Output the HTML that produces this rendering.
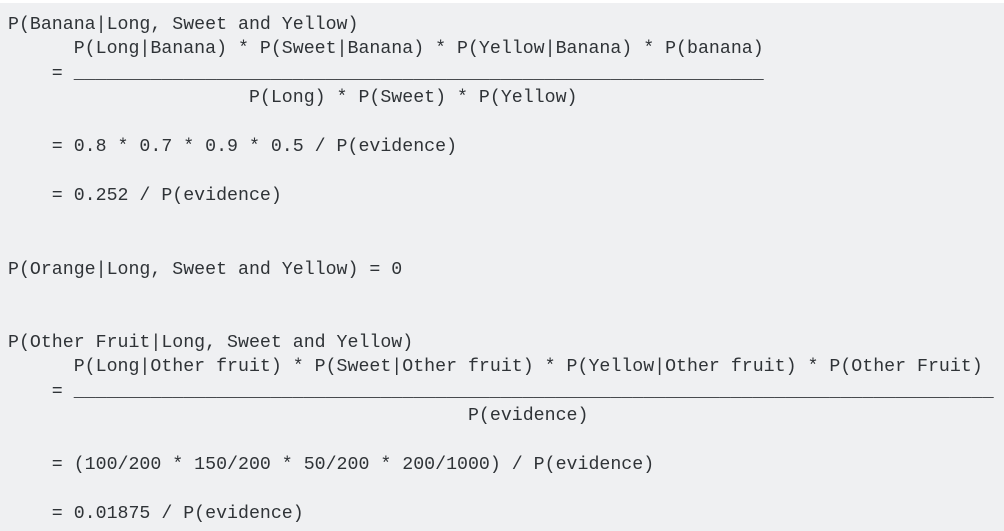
<!DOCTYPE html>
<html><head><meta charset="utf-8"><style>
html,body{margin:0;padding:0;}
body{width:1004px;height:531px;background:#eff0f2;border-top:3px solid #fff;box-sizing:border-box;overflow:hidden;}
pre{margin:0;padding:10px 0 0 8px;font-family:"Liberation Mono",monospace;font-size:18.25px;line-height:24.45px;color:#2f3337;letter-spacing:0;}
</style></head><body><pre>P(Banana|Long, Sweet and Yellow)
      P(Long|Banana) * P(Sweet|Banana) * P(Yellow|Banana) * P(banana)
    = _______________________________________________________________
                      P(Long) * P(Sweet) * P(Yellow)

    = 0.8 * 0.7 * 0.9 * 0.5 / P(evidence)

    = 0.252 / P(evidence)


P(Orange|Long, Sweet and Yellow) = 0


P(Other Fruit|Long, Sweet and Yellow)
      P(Long|Other fruit) * P(Sweet|Other fruit) * P(Yellow|Other fruit) * P(Other Fruit)
    = ____________________________________________________________________________________
                                          P(evidence)

    = (100/200 * 150/200 * 50/200 * 200/1000) / P(evidence)

    = 0.01875 / P(evidence)</pre></body></html>
